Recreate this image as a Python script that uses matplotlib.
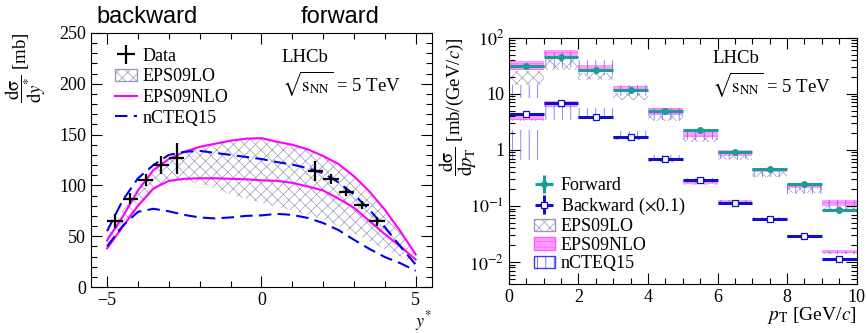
import matplotlib
matplotlib.use('Agg')
import matplotlib.pyplot as plt
import numpy as np
from matplotlib.patches import Patch
from matplotlib.lines import Line2D
from matplotlib.ticker import MultipleLocator, LogLocator, NullFormatter

plt.rcParams['font.family'] = ['Liberation Serif', 'DejaVu Serif']
plt.rcParams['mathtext.fontset'] = 'stix'
plt.rcParams['hatch.linewidth'] = 0.5

# ---- left panel: dsigma/dy* ----
ystar = [-5, -4.5, -4, -3.5, -3, -2.5, -2, -1.5, -1, -0.5, 0,
         0.5, 1, 1.5, 2, 2.5, 3, 3.5, 4, 4.5, 5]
nlo_hi = [46, 69, 95, 115, 126, 133, 138, 141, 144, 146, 146.5,
          143, 140, 135.5, 129, 121, 109, 94, 76, 55, 32]
nlo_lo = [38, 59, 80, 97, 104.5, 106.5, 107, 107, 106.5, 106, 105,
          104.5, 102.5, 99, 95, 87, 78, 65, 52, 40, 27]
ncteq_hi = [55, 85, 107, 120, 130, 133, 134, 132, 130, 128, 126,
            123, 120.5, 117, 112, 103, 91, 76, 59, 40, 22]
ncteq_lo = [40, 60, 74, 77, 74.5, 71, 68.5, 67.5, 68.5, 70, 70.5,
            72, 71, 68, 63, 56, 46.5, 37.5, 29.5, 23.5, 16]
lo_hi = [50, 75, 98, 116, 127, 133, 138, 141, 144, 146, 146.5,
         143, 140, 135.5, 129, 121, 109, 94, 76, 55, 32]
lo_lo = [38, 57, 78, 95, 103, 104, 102, 97, 91, 87, 83,
         79, 75, 71, 67, 60, 53, 45, 37, 30, 23]

data_y_pos = [-4.75, -4.25, -3.75, -3.25, -2.75, 1.75, 2.25, 2.75, 3.25, 3.75]
data_val = [65, 87, 105, 120, 126.5, 114.5, 106, 94, 81, 64.5]
data_err = [7, 5.5, 6, 9, 15, 10, 5, 4, 4, 4]

# ---- right panel: dsigma/dpT ----
pt_left = [0, 1, 2, 3, 4, 5, 6, 7, 8, 9]
pt_mid = [0.5, 1.5, 2.5, 3.5, 4.5, 5.5, 6.5, 7.5, 8.5, 9.5]
fwd = [31.6, 45, 26, 11.5, 5.0, 2.3, 0.90, 0.45, 0.25, 0.085]
fwd_err = [1.5, 2.5, 1.2, 0.5, 0.25, 0.15, 0.05, 0.03, 0.02, 0.008]
bwd = [4.3, 6.7, 3.8, 1.66, 0.68, 0.29, 0.113, 0.058, 0.029, 0.0113]
bwd_err = [0.2, 0.3, 0.15, 0.07, 0.03, 0.015, 0.005, 0.003, 0.0015, 0.0006]

fwd_nlo_lo = [27, 46, 25, 11, 4.2, 1.7, 0.78, 0.41, 0.21, 0.10]
fwd_nlo_hi = [37.7, 59, 33, 13.9, 5.5, 2.3, 1.0, 0.48, 0.26, 0.13]
bwd_nlo_lo = [3.4, 5.9, 3.6, 1.55, 0.62, 0.25, 0.108, 0.055, 0.028, 0.0143]
bwd_nlo_hi = [4.2, 7.3, 3.9, 1.73, 0.71, 0.30, 0.128, 0.060, 0.030, 0.0163]

fwd_lo_lo = [14.5, 27, 17.8, 7.8, 3.2, 1.4, 0.66, 0.33, 0.17, 0.085]
fwd_lo_hi = [25, 46, 23.4, 10.3, 5.2, 2.3, 0.93, 0.47, 0.24, 0.12]
bwd_lo_lo = [3.3, 5.6, 3.5, 1.5, 0.6, 0.24, 0.105, 0.053, 0.027, 0.014]
bwd_lo_hi = [3.9, 6.6, 3.9, 1.7, 0.7, 0.29, 0.125, 0.059, 0.030, 0.016]

fwd_nc_lo = [8.5, 29, 22, 9, 3.4, 1.5, 0.68, 0.33, 0.16, 0.09]
fwd_nc_hi = [14.5, 56, 40, 14.5, 5.6, 2.1, 0.93, 0.47, 0.24, 0.13]
bwd_nc_lo = [0.66, 3.4, 3.9, 1.57, 0.66, 0.26, 0.108, 0.053, 0.027, 0.014]
bwd_nc_hi = [2.3, 6.9, 5.6, 2.2, 0.81, 0.31, 0.128, 0.063, 0.030, 0.016]

magenta = '#ff00ff'
blue = '#0000ee'
grey = '#9a9ab8'
teal = '#1a9e8f'
dblue = '#1010c8'

fig = plt.figure(figsize=(8.67, 3.33), dpi=100)
ax1 = fig.add_axes([0.105, 0.138, 0.393, 0.763])
ax2 = fig.add_axes([0.587, 0.146, 0.401, 0.741])


def root_ticks(ax):
    ax.tick_params(which='both', direction='in', top=True, right=True, labelsize=13)
    ax.tick_params(which='major', length=8, width=0.8)
    ax.tick_params(which='minor', length=4, width=0.8)


# left
ax1.fill_between(ystar, lo_lo, lo_hi, facecolor='none', edgecolor=grey,
                 hatch='xxx', linewidth=0)
ax1.plot(ystar, nlo_hi, color=magenta, lw=1.5)
ax1.plot(ystar, nlo_lo, color=magenta, lw=1.5)
ax1.plot(ystar, ncteq_hi, color=blue, lw=1.5, ls=(0, (6, 3)))
ax1.plot(ystar, ncteq_lo, color=blue, lw=1.5, ls=(0, (6, 3)))
data = ax1.errorbar(data_y_pos, data_val, xerr=0.25, yerr=data_err, fmt='none',
                    ecolor='black', elinewidth=1.6)
ax1.set_xlim(-5.52, 5.52)
ax1.set_ylim(0, 250)
ax1.xaxis.set_major_locator(MultipleLocator(5))
ax1.xaxis.set_minor_locator(MultipleLocator(1))
ax1.yaxis.set_major_locator(MultipleLocator(50))
ax1.yaxis.set_minor_locator(MultipleLocator(10))
root_ticks(ax1)
ax1.set_ylabel(r'$\dfrac{\mathrm{d}\mathrm{\sigma}}{\mathrm{d}y^{*}}$ [mb]', fontsize=13.5,
               loc='top')
ax1.yaxis.set_label_coords(-0.125, 1.0)
ax1.set_xlabel(r'$y^{*}$', fontsize=13, loc='right')
ax1.xaxis.set_label_coords(1.0, -0.085)

h1 = [data,
      Patch(facecolor='white', edgecolor=grey, hatch='xxx', linewidth=1),
      Line2D([], [], color=magenta, lw=1.5),
      Line2D([], [], color=blue, lw=1.5, ls=(0, (6, 3)))]
ax1.legend(h1, ['Data', 'EPS09LO', 'EPS09NLO', 'nCTEQ15'], loc='upper left',
           bbox_to_anchor=(0.05, 0.97), frameon=False, fontsize=13,
           handlelength=1.2, handletextpad=0.3, labelspacing=0.2, borderaxespad=0)
ax1.text(0.56, 0.905, 'LHCb', transform=ax1.transAxes, fontsize=13.5, va='center')
ax1.text(0.56, 0.8, r'$\sqrt{\mathrm{s}_{\mathrm{NN}}}$ = 5 TeV', transform=ax1.transAxes,
         fontsize=13.5, va='center')

fig.text(0.17, 0.95, 'backward', fontsize=17, ha='center', va='center',
         family='Liberation Sans')
fig.text(0.392, 0.95, 'forward', fontsize=17, ha='center', va='center',
         family='Liberation Sans')


# right
def boxes(lo, hi, **kw):
    lo = np.array(lo)
    hi = np.array(hi)
    ax2.bar(pt_left, hi - lo, bottom=lo, width=1, align='edge', linewidth=0, **kw)


boxes(fwd_lo_lo, fwd_lo_hi, facecolor='none', edgecolor=grey, hatch='xxx')
boxes(bwd_lo_lo, bwd_lo_hi, facecolor='none', edgecolor=grey, hatch='xxx')
boxes(fwd_nlo_lo, fwd_nlo_hi, facecolor='#ff9cff', edgecolor='#ff5cff', hatch='---')
boxes(bwd_nlo_lo, bwd_nlo_hi, facecolor='#ff9cff', edgecolor='#ff5cff', hatch='---')
boxes(fwd_nc_lo, fwd_nc_hi, facecolor='none', edgecolor='#5a5aff', hatch='||')
boxes(bwd_nc_lo, bwd_nc_hi, facecolor='none', edgecolor='#5a5aff', hatch='||')

ef = ax2.errorbar(pt_mid, fwd, xerr=0.5, yerr=fwd_err, fmt='o', color=teal, ms=4,
                  elinewidth=2.2, capsize=0)
eb = ax2.errorbar(pt_mid, bwd, xerr=0.5, yerr=bwd_err, fmt='s', color=dblue, ms=4,
                  mfc='white', mec=dblue, mew=0.9, elinewidth=2.2, capsize=0)
ax2.set_yscale('log')
ax2.set_xlim(0, 10)
ax2.set_ylim(0.004, 100)
ax2.xaxis.set_major_locator(MultipleLocator(2))
ax2.xaxis.set_minor_locator(MultipleLocator(0.5))
ax2.set_yticks([0.01, 0.1, 1, 10, 100])
ax2.set_yticklabels([r'$10^{-2}$', r'$10^{-1}$', '1', '10', r'$10^{2}$'])
ax2.yaxis.set_minor_locator(LogLocator(base=10, subs=np.arange(2, 10)))
ax2.yaxis.set_minor_formatter(NullFormatter())
root_ticks(ax2)
ax2.set_ylabel(r'$\dfrac{\mathrm{d}\mathrm{\sigma}}{\mathrm{d}p_{\mathrm{T}}}$ [mb/(GeV/$c$)]',
               fontsize=13.5, loc='top')
ax2.yaxis.set_label_coords(-0.085, 1.0)
ax2.set_xlabel(r'$p_{\mathrm{T}}$ [GeV/$c$]', fontsize=14, loc='right')
ax2.xaxis.set_label_coords(1.0, -0.085)

h2 = [ef, eb,
      Patch(facecolor='white', edgecolor=grey, hatch='xxx', linewidth=1),
      Patch(facecolor='#ff9cff', edgecolor='#ff5cff', hatch='---', linewidth=1),
      Patch(facecolor='white', edgecolor='#3a3aff', hatch='||', linewidth=1)]
ax2.legend(h2, ['Forward', r'Backward ($\times$0.1)', 'EPS09LO', 'EPS09NLO', 'nCTEQ15'],
           loc='lower left', bbox_to_anchor=(0.05, 0.02), frameon=False, fontsize=13,
           handlelength=1.2, handletextpad=0.3, labelspacing=0.08, borderaxespad=0)
ax2.text(0.585, 0.915, 'LHCb', transform=ax2.transAxes, fontsize=13.5, va='center')
ax2.text(0.585, 0.81, r'$\sqrt{\mathrm{s}_{\mathrm{NN}}}$ = 5 TeV', transform=ax2.transAxes,
         fontsize=13.5, va='center')

fig.savefig('out.png', dpi=100)
